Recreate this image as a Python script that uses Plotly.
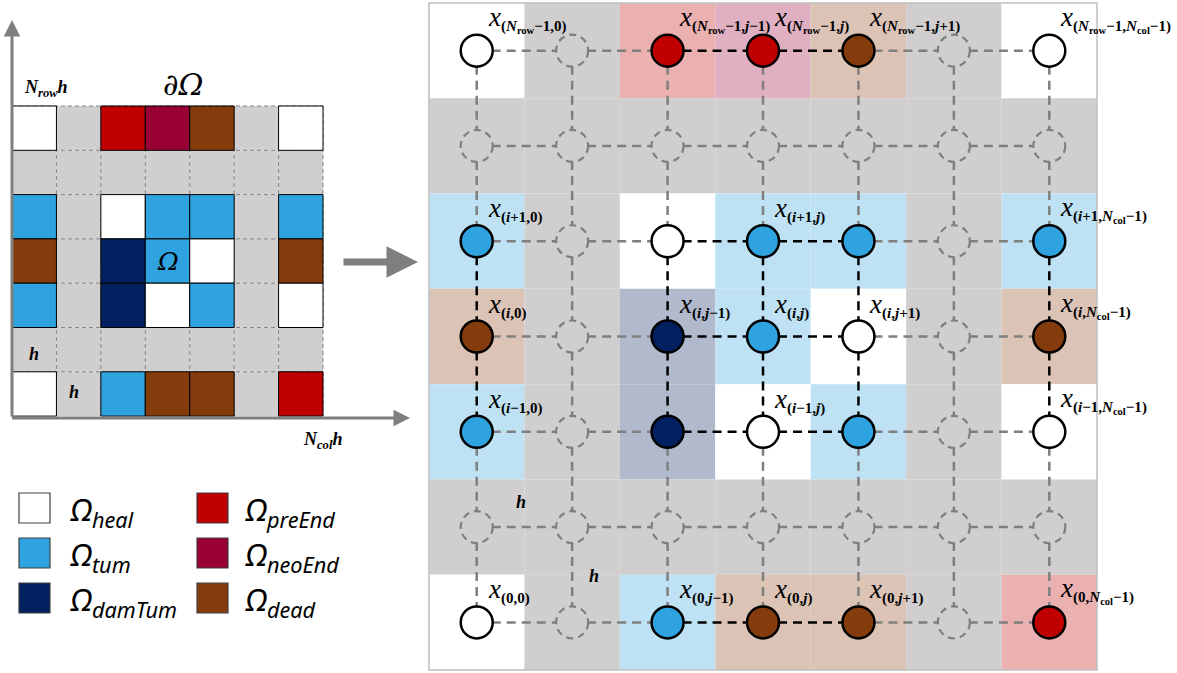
import plotly.graph_objects as go

# ---------------- data ----------------
grid_states = [
    ["heal", "gap", "preEnd", "neoEnd", "dead", "gap", "heal"],
    ["gap", "gap", "gap", "gap", "gap", "gap", "gap"],
    ["tum", "gap", "heal", "tum", "tum", "gap", "tum"],
    ["dead", "gap", "damTum", "tum", "heal", "gap", "dead"],
    ["tum", "gap", "damTum", "heal", "tum", "gap", "heal"],
    ["gap", "gap", "gap", "gap", "gap", "gap", "gap"],
    ["heal", "gap", "tum", "dead", "dead", "gap", "preEnd"],
]
row_index_labels = ["<i>N</i><sub>row</sub>−1", None, "<i>i</i>+1", "<i>i</i>", "<i>i</i>−1", None, "0"]
col_index_labels = ["0", None, "<i>j</i>−1", "<i>j</i>", "<i>j</i>+1", None, "<i>N</i><sub>col</sub>−1"]
labeled_nodes = [(0, 0), (0, 2), (0, 3), (0, 4), (0, 6),
                 (2, 0), (2, 3), (2, 6),
                 (3, 0), (3, 2), (3, 3), (3, 4), (3, 6),
                 (4, 0), (4, 3), (4, 6),
                 (6, 0), (6, 2), (6, 3), (6, 4), (6, 6)]
legend_left = ["heal", "tum", "damTum"]
legend_right = ["preEnd", "neoEnd", "dead"]

# ---------------- styles ----------------
solid = {"heal": "#FFFFFF", "tum": "#2EA3DF", "damTum": "#002060", "preEnd": "#C00000",
         "neoEnd": "#990033", "dead": "#843C0C", "gap": "#D0CECE"}
tint = {"heal": "#FFFFFF", "tum": "#BEE2F4", "damTum": "#B0BACC", "preEnd": "#EBB0B0",
        "neoEnd": "#E0B0C2", "dead": "#DBC4B6", "gap": "#D0CECE"}
node_col = dict(solid)
node_col["neoEnd"] = "#C00000"
GRAY_LINE = "#7F7F7F"

# left grid geometry
LX0, LY0, LCW, LCH = 12, 106, 44.43, 44.3
# right grid geometry
RX0, RY0, RCW, RCH = 429, 3, 95.43, 95.29
NR, NC = 7, 7

shapes = []
annotations = []

# ---------- left grid ----------
for r in range(NR):
    for c in range(NC):
        s = grid_states[r][c]
        if s == "gap":
            shapes.append(dict(type="rect", x0=LX0 + c * LCW, x1=LX0 + (c + 1) * LCW,
                               y0=LY0 + r * LCH, y1=LY0 + (r + 1) * LCH,
                               fillcolor=solid[s], line=dict(width=0), layer="below"))
for k in range(1, NC + 1):
    x = LX0 + k * LCW
    shapes.append(dict(type="line", x0=x, x1=x, y0=LY0, y1=LY0 + NR * LCH,
                       line=dict(color="#858585", width=1, dash="4px,3px"), layer="below"))
for k in range(0, NR):
    y = LY0 + k * LCH
    shapes.append(dict(type="line", x0=LX0, x1=LX0 + NC * LCW, y0=y, y1=y,
                       line=dict(color="#858585", width=1, dash="4px,3px"), layer="below"))
for r in range(NR):
    for c in range(NC):
        s = grid_states[r][c]
        if s != "gap":
            shapes.append(dict(type="rect", x0=LX0 + c * LCW, x1=LX0 + (c + 1) * LCW,
                               y0=LY0 + r * LCH, y1=LY0 + (r + 1) * LCH,
                               fillcolor=solid[s], line=dict(color="black", width=1), layer="below"))

# axes arrows
annotations.append(dict(x=LX0, y=20, ax=LX0, ay=LY0 + NR * LCH + 2, xref="x", yref="y",
                        axref="x", ayref="y", text="", showarrow=True, arrowhead=2,
                        arrowsize=1.1, arrowwidth=3, arrowcolor=GRAY_LINE))
annotations.append(dict(x=410, y=LY0 + NR * LCH + 2, ax=LX0 - 1.5, ay=LY0 + NR * LCH + 2,
                        xref="x", yref="y", axref="x", ayref="y", text="", showarrow=True,
                        arrowhead=2, arrowsize=1.1, arrowwidth=3, arrowcolor=GRAY_LINE))
# big arrow
annotations.append(dict(x=418, y=262, ax=342, ay=262, xref="x", yref="y", axref="x", ayref="y",
                        text="", showarrow=True, arrowhead=2, arrowsize=0.9, arrowwidth=7,
                        arrowcolor=GRAY_LINE))

serif = "Liberation Serif"
annotations += [
    dict(x=22, y=88, text="<b><i>N<sub>row</sub>h</i></b>", showarrow=False, xanchor="left",
         yanchor="middle", font=dict(family=serif, size=18, color="black")),
    dict(x=183, y=84, text="<i>∂Ω</i>", showarrow=False, xanchor="center", yanchor="middle",
         font=dict(family="DejaVu Serif", size=30, color="black")),
    dict(x=LX0 + 3.5 * LCW, y=LY0 + 3.5 * LCH, text="<i>Ω</i>", showarrow=False,
         font=dict(family="DejaVu Serif", size=25, color="black")),
    dict(x=LX0 + 0.5 * LCW, y=LY0 + 5.6 * LCH, text="<b><i>h</i></b>", showarrow=False,
         font=dict(family=serif, size=18, color="black")),
    dict(x=LX0 + 1.4 * LCW, y=LY0 + 6.45 * LCH, text="<b><i>h</i></b>", showarrow=False,
         font=dict(family=serif, size=18, color="black")),
    dict(x=301, y=440, text="<b><i>N<sub>col</sub>h</i></b>", showarrow=False, xanchor="left",
         yanchor="middle", font=dict(family=serif, size=18, color="black")),
]

# ---------- legend ----------
LEG_Y0, LEG_DY, SQ = 493, 45, 30
for col, (items, sx, tx) in enumerate([(legend_left, 19, 68), (legend_right, 197, 243)]):
    for k, s in enumerate(items):
        y0 = LEG_Y0 + k * LEG_DY
        shapes.append(dict(type="rect", x0=sx, x1=sx + SQ + 1, y0=y0, y1=y0 + SQ,
                           fillcolor=solid[s], line=dict(color="#404040", width=1.2)))
        annotations.append(dict(x=tx, y=y0 + SQ + 13, text="<i>Ω<sub>%s</sub></i>" % s,
                                showarrow=False, xanchor="left", yanchor="bottom",
                                font=dict(family="Noto Sans", size=31, color="black")))

# ---------- right panel ----------
def rc(r, c):
    return RX0 + (c + 0.5) * RCW, RY0 + (r + 0.5) * RCH

for r in range(NR):
    for c in range(NC):
        s = grid_states[r][c]
        shapes.append(dict(type="rect", x0=RX0 + c * RCW, x1=RX0 + (c + 1) * RCW,
                           y0=RY0 + r * RCH, y1=RY0 + (r + 1) * RCH,
                           fillcolor=tint[s], line=dict(width=0), layer="below"))
shapes.append(dict(type="rect", x0=RX0, x1=RX0 + NC * RCW, y0=RY0, y1=RY0 + NR * RCH,
                   line=dict(color="#BFBFBF", width=1.5), layer="below"))

# edges
for r in range(NR):
    for c in range(NC):
        for dr, dc in ((0, 1), (1, 0)):
            r2, c2 = r + dr, c + dc
            if r2 >= NR or c2 >= NC:
                continue
            real = grid_states[r][c] != "gap" and grid_states[r2][c2] != "gap"
            x1, y1 = rc(r, c)
            x2, y2 = rc(r2, c2)
            shapes.append(dict(type="line", x0=x1, y0=y1, x1=x2, y1=y2, layer="below",
                               line=dict(color="black" if real else GRAY_LINE, width=2.5,
                                         dash="9px,6px")))
# ghost nodes
RAD = 16
for r in range(NR):
    for c in range(NC):
        if grid_states[r][c] == "gap":
            x, y = rc(r, c)
            shapes.append(dict(type="circle", x0=x - RAD, x1=x + RAD, y0=y - RAD, y1=y + RAD,
                               fillcolor=tint["gap"], layer="below",
                               line=dict(color=GRAY_LINE, width=2.2, dash="7px,5px")))

nx, ny, nc = [], [], []
for r in range(NR):
    for c in range(NC):
        s = grid_states[r][c]
        if s != "gap":
            x, y = rc(r, c)
            nx.append(x); ny.append(y); nc.append(node_col[s])

fig = go.Figure()
fig.add_trace(go.Scatter(x=nx, y=ny, mode="markers", hoverinfo="skip", showlegend=False,
                         marker=dict(size=32, color=nc, line=dict(color="black", width=2.5))))

for r, c in labeled_nodes:
    x, y = rc(r, c)
    txt = ('<span style="font-size:27px"><i>x</i></span><sub><b>(%s,%s)</b></sub>'
           % (row_index_labels[r], col_index_labels[c]))
    annotations.append(dict(x=x + 9, y=y - 13, text=txt, showarrow=False, xanchor="left",
                            yanchor="bottom", font=dict(family=serif, size=21.5, color="black")))

annotations += [
    dict(x=521, y=502, text="<b><i>h</i></b>", showarrow=False,
         font=dict(family=serif, size=18, color="black")),
    dict(x=594, y=576, text="<b><i>h</i></b>", showarrow=False,
         font=dict(family=serif, size=18, color="black")),
]

fig.update_layout(width=1177, height=673, margin=dict(l=0, r=0, t=0, b=0),
                  paper_bgcolor="white", plot_bgcolor="white", hovermode=False,
                  xaxis=dict(range=[0, 1177], visible=False, fixedrange=True),
                  yaxis=dict(range=[673, 0], visible=False, fixedrange=True),
                  shapes=shapes, annotations=annotations)
fig.write_html("out.html", config={"displayModeBar": False},
               post_script="document.body.style.margin='0';")
